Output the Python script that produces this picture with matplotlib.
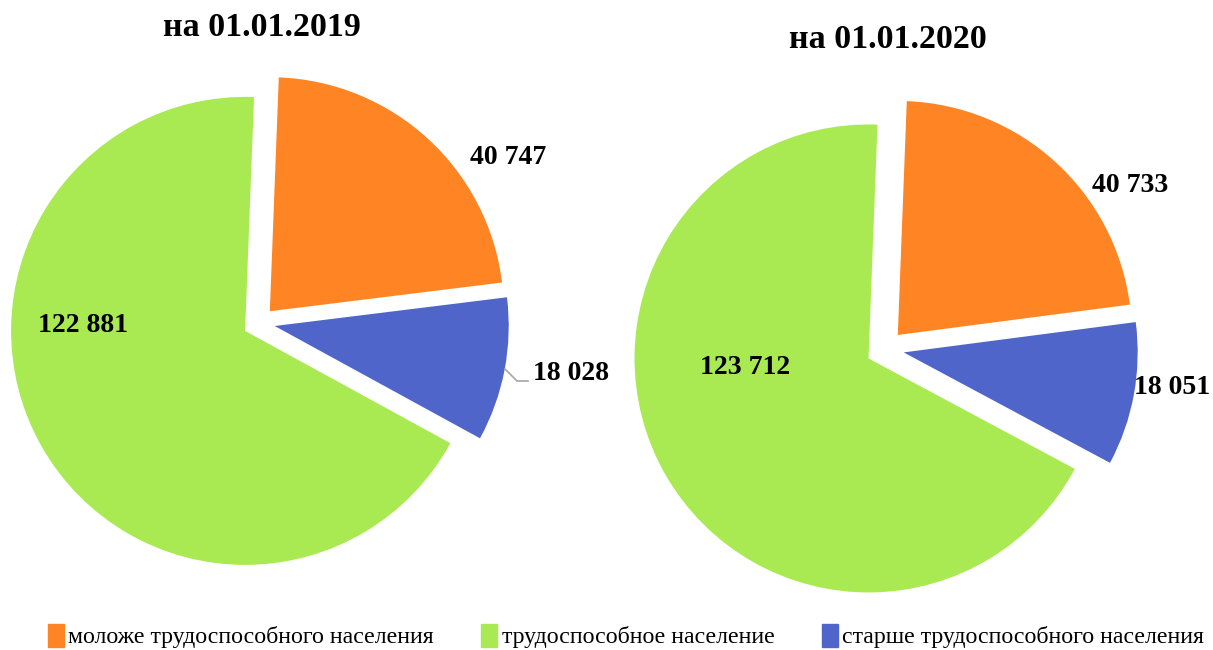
import matplotlib.pyplot as plt

plt.rcParams['font.family'] = ['Liberation Serif', 'DejaVu Serif']

# data
titles = ['на 01.01.2019', 'на 01.01.2020']
categories = ['моложе трудоспособного населения',
              'трудоспособное население',
              'старше трудоспособного населения']
# order of drawing: younger, older, working age (clockwise from top)
young = [40747, 40733]
old = [18028, 18051]
working = [122881, 123712]

colors = {'young': '#FF8424', 'working': '#A9EA52', 'old': '#4F65C9'}

def fmt(v):
    return '{:,}'.format(v).replace(',', ' ')

fig = plt.figure(figsize=(12.13, 6.5), dpi=100)
ax = fig.add_axes([0, 0, 1, 1])

# pie layout in pixels (y measured from bottom)
centers = [(259, 650 - 323), (885, 650 - 349)]
radii = [234, 234]
explodes = [16, 19]
starts = [87.8, 87.8]
title_pos = [(262, 650 - 28), (888, 650 - 40)]
label_pos = [
    [(508, 650 - 157), (533, 650 - 373), (83, 650 - 325)],
    [(1130, 650 - 185), (1172, 650 - 387), (745, 650 - 368)],
]
label_ha = [['center', 'left', 'center'], ['center', 'center', 'center']]

for i in range(2):
    vals = [young[i], old[i], working[i]]
    cols = [colors['young'], colors['old'], colors['working']]
    e = explodes[i]
    ax.pie(vals, colors=cols, center=centers[i], radius=radii[i],
           startangle=starts[i], counterclock=False,
           explode=[e, e, e], frame=True,
           wedgeprops=dict(linewidth=0))
    ax.text(title_pos[i][0], title_pos[i][1], titles[i], ha='center',
            va='center', fontsize=24.5, fontweight='bold')
    for (x, y), v, ha in zip(label_pos[i], vals, label_ha[i]):
        ax.text(x, y, fmt(v), ha=ha, va='center', fontsize=20,
                fontweight='bold')

# leader line for 18 028
ax.plot([505, 517, 528], [650 - 369, 650 - 381, 650 - 381],
        color='#A6A6A6', linewidth=1.2)

ax.set_xlim(0, 1213)
ax.set_ylim(0, 650)
ax.set_aspect('equal')
ax.axis('off')

# legend
handles = [plt.Rectangle((0, 0), 1, 1, color=colors['young']),
           plt.Rectangle((0, 0), 1, 1, color=colors['working']),
           plt.Rectangle((0, 0), 1, 1, color=colors['old'])]
fig.legend(handles, categories, loc='center', bbox_to_anchor=(0.516, 1 - 636 / 650),
           ncol=3, frameon=False, fontsize=17.2, handlelength=0.68,
           handleheight=1.1, handletextpad=0.17, columnspacing=2.0)

fig.savefig('out.png', dpi=100)
